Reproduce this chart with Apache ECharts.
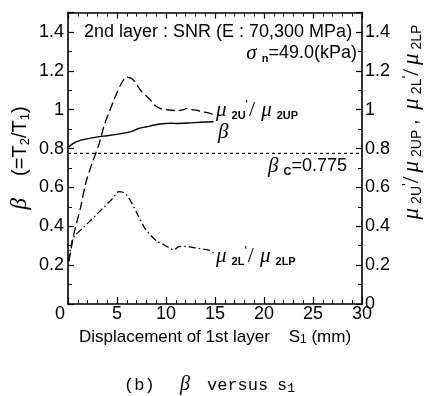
<!DOCTYPE html>
<html><head><meta charset="utf-8">
<script src="https://cdn.jsdelivr.net/npm/echarts@6/dist/echarts.min.js"></script>
<style>html,body{margin:0;padding:0;background:#fff}#c{width:427px;height:396px}</style>
</head><body><div id="c"></div>
<script>
// ---- data ----
const betaS = [0, 0.5, 1.3, 2.2, 3.0, 4.0, 5.0, 6.0, 6.6, 7.2, 8.0, 9.4, 10.5, 11.1, 12.5, 13.5, 14.85];
const betaV = [0.805, 0.825, 0.843, 0.852, 0.86, 0.866, 0.873, 0.882, 0.89, 0.903, 0.912, 0.926, 0.93, 0.929, 0.932, 0.935, 0.938];

const muUS = [0.1, 0.6, 1.3, 1.8, 2.5, 3.15, 3.7, 4.3, 4.85, 5.5, 6.0, 6.5, 7.0, 7.4, 8.0, 8.4, 8.9, 9.4, 10.0, 10.4, 11.2, 11.8, 12.1, 12.6, 13.1, 13.6, 14.2, 14.85];
const muUV = [0.22, 0.36, 0.5, 0.62, 0.73, 0.82, 0.92, 1.0, 1.07, 1.14, 1.167, 1.16, 1.13, 1.10, 1.07, 1.05, 1.02, 1.007, 1.0, 0.998, 0.995, 1.0, 1.007, 1.0, 0.998, 0.99, 0.985, 0.975];

const muLS = [0.1, 0.3, 0.6, 1.5, 2.5, 3.5, 4.5, 5.2, 5.6, 6.0, 6.5, 7.2, 7.9, 8.5, 9.1, 9.6, 10.3, 10.8, 11.3, 12.0, 12.8, 13.5, 14.1, 14.5, 14.85];
const muLV = [0.22, 0.3, 0.345, 0.39, 0.44, 0.49, 0.54, 0.578, 0.575, 0.56, 0.52, 0.45, 0.385, 0.35, 0.322, 0.31, 0.29, 0.278, 0.295, 0.297, 0.29, 0.285, 0.28, 0.275, 0.262];

const betaC = 0.775;
const betaCRange = [0, 30];

const xRange = [0, 30];
const xStep = 5;
const yRange = [0, 1.5];
const yStep = 0.2;

const xName = 'Displacement of 1st layer    S{s|1} (mm)';
const titleText = '2nd layer : SNR (E : 70,300 MPa)';

// ---- build ----
const zip = (a, b) => a.map((v, i) => [v, b[i]]);
const BLK = '#000';
const SANS = 'Liberation Sans, Arial, sans-serif';
const SERIF = 'Liberation Serif, Times New Roman, serif';
const MONO = 'Liberation Mono, Courier New, monospace';

const muRich = {
  mu: {fontFamily: SERIF, fontStyle: 'italic', fontSize: 21, lineHeight: 22, verticalAlign: 'middle', fill: BLK},
  sub: {fontFamily: SANS, fontWeight: 'bold', fontSize: 11, lineHeight: 11, verticalAlign: 'bottom', padding: [0, 0, 0, 5], fill: BLK},
  pr: {fontFamily: SANS, fontSize: 13, lineHeight: 14, verticalAlign: 'top', fill: BLK},
  sl: {fontFamily: SERIF, fontSize: 22, lineHeight: 22, verticalAlign: 'middle', padding: [0, 6, 0, 1], fill: BLK},
  t: {fontFamily: SANS, fontSize: 18, lineHeight: 22, verticalAlign: 'middle', fill: BLK},
  ts: {fontFamily: SANS, fontSize: 12, lineHeight: 12, verticalAlign: 'bottom', fill: BLK},
  rmu: {fontFamily: SERIF, fontStyle: 'italic', fontSize: 23, lineHeight: 24, verticalAlign: 'middle', fill: BLK},
  rsub: {fontFamily: SANS, fontSize: 14, lineHeight: 13, verticalAlign: 'bottom', padding: [0, 0, 0, 4], fill: BLK},
  rpr: {fontFamily: SANS, fontSize: 15, lineHeight: 15, verticalAlign: 'top', fill: BLK},
  rsl: {fontFamily: SERIF, fontSize: 24, lineHeight: 24, verticalAlign: 'middle', padding: [0, 4, 0, 0], fill: BLK},
  rt: {fontFamily: SANS, fontSize: 18, lineHeight: 24, verticalAlign: 'middle', fill: BLK},
  yt: {fontFamily: SANS, fontSize: 20, lineHeight: 24, verticalAlign: 'middle', fill: BLK},
  yts: {fontFamily: SANS, fontSize: 13, lineHeight: 12, verticalAlign: 'bottom', fill: BLK},
  ymu: {fontFamily: SERIF, fontStyle: 'italic', fontSize: 23, lineHeight: 24, verticalAlign: 'middle', fill: BLK},
  c: {fontFamily: MONO, fontSize: 17, lineHeight: 20, verticalAlign: 'middle', fill: BLK},
  cb: {fontFamily: SERIF, fontStyle: 'italic', fontSize: 20, lineHeight: 20, verticalAlign: 'middle', fill: BLK},
  cs: {fontFamily: MONO, fontSize: 13, lineHeight: 12, verticalAlign: 'bottom', fill: BLK}
};

function txt(x, y, text, opts) {
  opts = opts || {};
  return {
    type: 'text', x: x, y: y, rotation: opts.rotation || 0, z: 100,
    style: {
      text: text, fill: BLK,
      font: opts.font || ('16px ' + SANS),
      align: opts.align || 'left', textAlign: opts.align || 'left',
      verticalAlign: 'middle', textVerticalAlign: 'middle',
      rich: muRich
    }
  };
}

const axisCommon = {
  type: 'value',
  axisLine: {show: true, onZero: false, lineStyle: {color: BLK, width: 1.6}},
  splitLine: {show: false},
  minorSplitLine: {show: false}
};

const chart = echarts.init(document.getElementById('c'), null, {renderer: 'canvas'});
chart.setOption({
  backgroundColor: '#fff',
  animation: false,
  grid: {left: 68, right: 65, top: 12.5, bottom: 92, containLabel: false},
  xAxis: [
    Object.assign({}, axisCommon, {
      position: 'bottom', min: xRange[0], max: xRange[1], interval: xStep,
      axisTick: {inside: true, length: 7, lineStyle: {color: BLK, width: 1.2}},
      minorTick: {show: true, splitNumber: 5, length: 4, lineStyle: {color: BLK, width: 1}},
      axisLabel: {color: BLK, fontSize: 18, fontFamily: SANS, margin: 1,
        formatter: v => v === 0 ? '{z|0}' : String(v),
        rich: {z: {fontSize: 18, fontFamily: SANS, color: BLK, padding: [0, 16, 0, 0]}}},
      name: xName, nameLocation: 'middle', nameGap: 25,
      nameTextStyle: {color: BLK, fontSize: 17, fontFamily: SANS,
        rich: {s: {fontSize: 12, fontFamily: SANS, color: BLK, verticalAlign: 'bottom', lineHeight: 10}}}
    }),
    Object.assign({}, axisCommon, {
      position: 'top', min: xRange[0], max: xRange[1], interval: xStep,
      axisTick: {inside: true, length: 6, lineStyle: {color: BLK, width: 1.2}},
      minorTick: {show: true, splitNumber: 5, length: 4, lineStyle: {color: BLK, width: 1}},
      axisLabel: {show: false}
    })
  ],
  yAxis: [
    Object.assign({}, axisCommon, {
      position: 'left', min: yRange[0], max: yRange[1], interval: yStep,
      axisTick: {inside: true, length: 6, lineStyle: {color: BLK, width: 1.2}},
      minorTick: {show: true, splitNumber: 2, length: 4, lineStyle: {color: BLK, width: 1}},
      axisLabel: {color: BLK, fontSize: 18, fontFamily: SANS, margin: 4, showMinLabel: false, showMaxLabel: false}
    }),
    Object.assign({}, axisCommon, {
      position: 'right', min: yRange[0], max: yRange[1], interval: yStep,
      axisTick: {inside: true, length: 6, lineStyle: {color: BLK, width: 1.2}},
      minorTick: {show: true, splitNumber: 2, length: 4, lineStyle: {color: BLK, width: 1}},
      axisLabel: {color: BLK, fontSize: 18, fontFamily: SANS, margin: 3, showMaxLabel: false}
    })
  ],
  series: [
    {type: 'line', name: 'beta', data: zip(betaS, betaV), showSymbol: false, smooth: 0.3,
      lineStyle: {color: BLK, width: 1.4, type: 'solid'}},
    {type: 'line', name: 'mu2U', data: zip(muUS, muUV), showSymbol: false, smooth: 0.3,
      lineStyle: {color: BLK, width: 1.3, type: [9, 4]}},
    {type: 'line', name: 'mu2L', data: zip(muLS, muLV), showSymbol: false, smooth: 0.3,
      lineStyle: {color: BLK, width: 1.3, type: [7, 3, 1.5, 3]}},
    {type: 'line', name: 'betaC', data: betaCRange.map(x => [x, betaC]), showSymbol: false,
      lineStyle: {color: BLK, width: 1.2, type: [3, 3]}}
  ],
  graphic: [
    txt(84, 32, titleText, {font: '18px ' + SANS}),
    txt(357, 53, '{mu|σ}{sub|n}{t|=49.0(kPa)}', {align: 'right'}),
    txt(216, 110, '{mu|μ}{sub|2U}{pr|\'}{sl|/}{mu|μ}{sub|2UP}'),
    txt(218, 132, '{mu|β}'),
    txt(268, 166, '{mu|β}{sub|C}{t|=0.775}'),
    txt(216, 256, '{mu|μ}{sub|2L}{pr|\'}{sl|/}{mu|μ}{sub|2LP}'),
    txt(20, 158, '{ymu|β}{yt|    (=T}{yts|2}{yt|/T}{yts|1}{yt|)}', {align: 'center', rotation: Math.PI / 2}),
    txt(412, 122, '{rmu|μ}{rsub|2U}{rpr|\'}{rsl|/}{rmu|μ}{rsub|2UP}{rt| ,  }{rmu|μ}{rsub|2L}{rpr|\'}{rsl|/}{rmu|μ}{rsub|2LP}', {align: 'center', rotation: Math.PI / 2}),
    txt(124, 385, '{c|(b)}'),
    txt(180, 385, '{cb|β}'),
    txt(207, 385, '{c|versus}'),
    txt(277, 385, '{c|s}{cs|1}')
  ]
});
</script>
</body></html>
